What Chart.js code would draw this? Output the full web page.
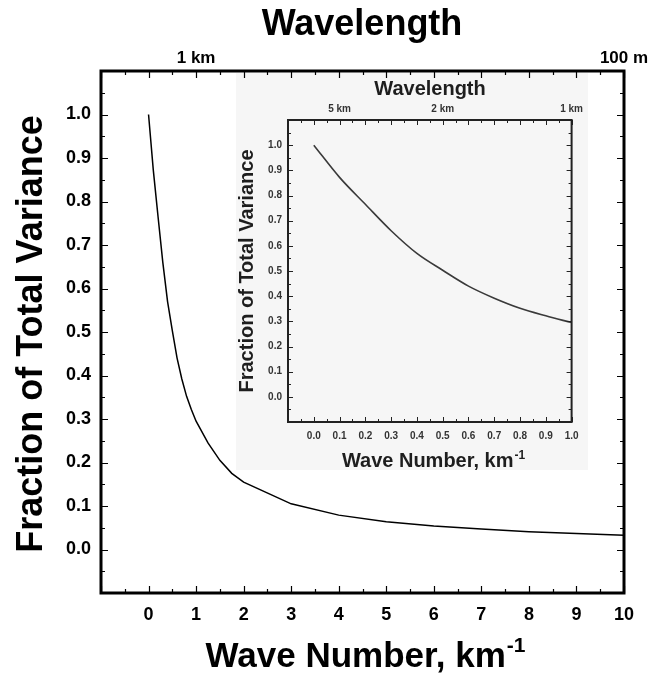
<!DOCTYPE html>
<html><head><meta charset="utf-8">
<script src="https://cdn.jsdelivr.net/npm/chart.js@4.4.1/dist/chart.umd.min.js"></script>
<style>
html,body{margin:0;padding:0;background:#fff;}
#wrap{position:relative;width:653px;height:675px;overflow:hidden;}
#main{position:absolute;left:0;top:0;}
#insetBg{position:absolute;left:236px;top:73px;width:352px;height:397px;background:#f6f6f6;}
#inset{position:absolute;left:233px;top:73px;}
</style></head><body>
<div id="wrap">
<div id="insetBg"></div>
<canvas id="main" width="653" height="675"></canvas>
<canvas id="inset" width="355" height="404"></canvas>
</div>
<script>
// ---------- data ----------
const mainWaveNumber = [0, 0.1, 0.2, 0.3, 0.4, 0.5, 0.6, 0.7, 0.8, 0.9, 1.0, 1.25, 1.5, 1.75, 2, 3, 4, 5, 6, 7, 8, 9, 10];
const mainVariance   = [1.0, 0.872, 0.765, 0.66, 0.57, 0.503, 0.44, 0.392, 0.352, 0.322, 0.295, 0.245, 0.205, 0.175, 0.155, 0.105, 0.079, 0.064, 0.054, 0.047, 0.041, 0.037, 0.033];
const mainXTicks = [0, 1, 2, 3, 4, 5, 6, 7, 8, 9, 10];
const mainYTicks = [0.0, 0.1, 0.2, 0.3, 0.4, 0.5, 0.6, 0.7, 0.8, 0.9, 1.0];
const mainTopPositions = [1, 10];
const mainTopLabels = ['1 km', '100 m'];

const insetWaveNumber = [0.0, 0.1, 0.2, 0.3, 0.4, 0.5, 0.6, 0.7, 0.8, 0.9, 1.0];
const insetVariance   = [1.0, 0.872, 0.765, 0.66, 0.57, 0.503, 0.44, 0.392, 0.352, 0.322, 0.295];
const insetXTicks = [0.0, 0.1, 0.2, 0.3, 0.4, 0.5, 0.6, 0.7, 0.8, 0.9, 1.0];
const insetYTicks = [0.0, 0.1, 0.2, 0.3, 0.4, 0.5, 0.6, 0.7, 0.8, 0.9, 1.0];
const insetTopPositions = [0.1, 0.5, 1.0];
const insetTopLabels = ['5 km', '2 km', '1 km'];

const FONT = 'Liberation Sans, Arial, Helvetica, sans-serif';

// ---------- helper plugins ----------
function frameTicks(id, cfg) {
  return {
    id: id,
    afterDraw(chart) {
      const ctx = chart.ctx;
      const a = chart.chartArea;
      const xs = chart.scales.x, ys = chart.scales.y;
      ctx.save();
      ctx.strokeStyle = cfg.color;
      ctx.lineWidth = cfg.tickWidth;
      ctx.beginPath();
      const nx = Math.round((xs.max - xs.min) / cfg.xMinor);
      for (let i = 0; i <= nx; i++) {
        const v = xs.min + i * cfg.xMinor;
        const r = v / cfg.xMajor;
        const major = Math.abs(r - Math.round(r)) < 1e-6;
        const len = major ? cfg.majorLen : cfg.minorLen;
        const px = Math.round(xs.getPixelForValue(v)) + 0.5;
        ctx.moveTo(px, a.bottom); ctx.lineTo(px, a.bottom - len);
        ctx.moveTo(px, a.top); ctx.lineTo(px, a.top + len);
      }
      const ny = Math.round((ys.max - ys.min) / cfg.yMinor);
      for (let i = 0; i <= ny; i++) {
        const v = ys.min + i * cfg.yMinor;
        const r = v / cfg.yMajor;
        const major = Math.abs(r - Math.round(r)) < 1e-6;
        const len = major ? cfg.majorLen : cfg.minorLen;
        const py = Math.round(ys.getPixelForValue(v)) + 0.5;
        ctx.moveTo(a.left, py); ctx.lineTo(a.left + len, py);
        ctx.moveTo(a.right, py); ctx.lineTo(a.right - len, py);
      }
      ctx.stroke();
      ctx.lineWidth = cfg.frameWidth;
      ctx.strokeRect(a.left, a.top, a.right - a.left, a.bottom - a.top);
      ctx.restore();
    }
  };
}

function titles(id, cfg) {
  return {
    id: id,
    afterDraw(chart) {
      const ctx = chart.ctx;
      ctx.save();
      ctx.fillStyle = cfg.color;
      ctx.font = 'bold ' + cfg.topSize + 'px ' + FONT;
      ctx.textAlign = 'center';
      ctx.textBaseline = 'alphabetic';
      ctx.fillText(cfg.topText, cfg.topX, cfg.topY);
      ctx.font = 'bold ' + cfg.xSize + 'px ' + FONT;
      const w = ctx.measureText(cfg.xText).width;
      ctx.font = 'bold ' + cfg.supSize + 'px ' + FONT;
      const ws = ctx.measureText(cfg.supText).width;
      const start = cfg.xX - (w + ws) / 2;
      ctx.textAlign = 'left';
      ctx.font = 'bold ' + cfg.xSize + 'px ' + FONT;
      ctx.fillText(cfg.xText, start, cfg.xY);
      ctx.font = 'bold ' + cfg.supSize + 'px ' + FONT;
      ctx.fillText(cfg.supText, start + w + 1, cfg.xY - cfg.supRise);
      ctx.translate(cfg.yX, cfg.yY);
      ctx.rotate(-Math.PI / 2);
      ctx.textAlign = 'center';
      ctx.font = 'bold ' + cfg.ySize + 'px ' + FONT;
      ctx.fillText(cfg.yText, 0, 0);
      ctx.restore();
    }
  };
}

// ---------- main chart ----------
new Chart(document.getElementById('main'), {
  type: 'line',
  data: {
    datasets: [{
      data: mainWaveNumber.map((x, i) => ({ x: x, y: mainVariance[i] })),
      borderColor: '#000', borderWidth: 1.5, pointRadius: 0, tension: 0, fill: false
    }]
  },
  options: {
    responsive: false, animation: false,
    layout: { padding: 0, autoPadding: false },
    plugins: { legend: { display: false }, tooltip: { enabled: false } },
    scales: {
      x: {
        type: 'linear', position: 'bottom', min: -1, max: 10,
        afterBuildTicks: s => { s.ticks = mainXTicks.map(v => ({ value: v })); },
        ticks: { callback: v => String(v), font: { family: FONT, size: 18, weight: 'bold' }, color: '#000', padding: 11, maxRotation: 0, autoSkip: false },
        grid: { display: false, drawTicks: false }, border: { display: false },
        afterFit: s => { s.height = 82; }
      },
      x2: {
        type: 'linear', position: 'top', min: -1, max: 10,
        afterBuildTicks: s => { s.ticks = mainTopPositions.map(v => ({ value: v })); },
        ticks: { callback: (v, i) => mainTopLabels[i], font: { family: FONT, size: 17, weight: 'bold' }, color: '#000', padding: 2, maxRotation: 0, autoSkip: false },
        grid: { display: false, drawTicks: false }, border: { display: false },
        afterFit: s => { s.height = 71; }
      },
      y: {
        type: 'linear', position: 'left', min: -0.1, max: 1.1,
        afterBuildTicks: s => { s.ticks = mainYTicks.map(v => ({ value: v })); },
        ticks: { callback: v => Number(v).toFixed(1), font: { family: FONT, size: 18, weight: 'bold' }, color: '#000', padding: 10 },
        grid: { display: false, drawTicks: false }, border: { display: false },
        afterFit: s => { s.width = 101; }
      },
      y2: {
        type: 'linear', position: 'right', min: -0.1, max: 1.1,
        ticks: { display: false },
        grid: { display: false, drawTicks: false }, border: { display: false },
        afterFit: s => { s.width = 29; }
      }
    }
  },
  plugins: [
    frameTicks('mainFrame', { color: '#000', tickWidth: 1.2, frameWidth: 3, majorLen: 7, minorLen: 4, xMinor: 0.5, xMajor: 1, yMinor: 0.05, yMajor: 0.1 }),
    titles('mainTitles', {
      color: '#000',
      topText: 'Wavelength', topSize: 36, topX: 362, topY: 35,
      xText: 'Wave Number, km', supText: '-1', xSize: 35, supSize: 21, supRise: 15, xX: 365, xY: 667,
      yText: 'Fraction of Total Variance', ySize: 36, yX: 42, yY: 334
    })
  ]
});

// ---------- inset chart ----------
new Chart(document.getElementById('inset'), {
  type: 'line',
  data: {
    datasets: [{
      data: insetWaveNumber.map((x, i) => ({ x: x, y: insetVariance[i] })),
      borderColor: '#3a3a3a', borderWidth: 1.6, pointRadius: 0, cubicInterpolationMode: 'monotone', fill: false
    }]
  },
  options: {
    responsive: false, animation: false,
    layout: { padding: 0, autoPadding: false },
    plugins: { legend: { display: false }, tooltip: { enabled: false } },
    scales: {
      x: {
        type: 'linear', position: 'bottom', min: -0.1, max: 1.0,
        afterBuildTicks: s => { s.ticks = insetXTicks.map(v => ({ value: v })); },
        ticks: { callback: v => Number(v).toFixed(1), font: { family: FONT, size: 10, weight: 'bold' }, color: '#333', padding: 8, maxRotation: 0, autoSkip: false },
        grid: { display: false, drawTicks: false }, border: { display: false },
        afterFit: s => { s.height = 55; }
      },
      x2: {
        type: 'linear', position: 'top', min: -0.1, max: 1.0,
        afterBuildTicks: s => { s.ticks = insetTopPositions.map(v => ({ value: v })); },
        ticks: { callback: (v, i) => insetTopLabels[i], font: { family: FONT, size: 10, weight: 'bold' }, color: '#333', padding: 5, maxRotation: 0, autoSkip: false },
        grid: { display: false, drawTicks: false }, border: { display: false },
        afterFit: s => { s.height = 47; }
      },
      y: {
        type: 'linear', position: 'left', min: -0.1, max: 1.1,
        afterBuildTicks: s => { s.ticks = insetYTicks.map(v => ({ value: v })); },
        ticks: { callback: v => Number(v).toFixed(1), font: { family: FONT, size: 10, weight: 'bold' }, color: '#333', padding: 6 },
        grid: { display: false, drawTicks: false }, border: { display: false },
        afterFit: s => { s.width = 55; }
      },
      y2: {
        type: 'linear', position: 'right', min: -0.1, max: 1.1,
        ticks: { display: false },
        grid: { display: false, drawTicks: false }, border: { display: false },
        afterFit: s => { s.width = 13; }
      }
    }
  },
  plugins: [
    frameTicks('insetFrame', { color: '#222', tickWidth: 1, frameWidth: 2, majorLen: 5, minorLen: 3, xMinor: 0.05, xMajor: 0.1, yMinor: 0.05, yMajor: 0.1 }),
    titles('insetTitles', {
      color: '#1e1e1e',
      topText: 'Wavelength', topSize: 20, topX: 197, topY: 22,
      xText: 'Wave Number, km', supText: '-1', xSize: 20, supSize: 12, supRise: 8, xX: 200, xY: 394,
      yText: 'Fraction of Total Variance', ySize: 20, yX: 20, yY: 198
    })
  ]
});
</script>
</body></html>
